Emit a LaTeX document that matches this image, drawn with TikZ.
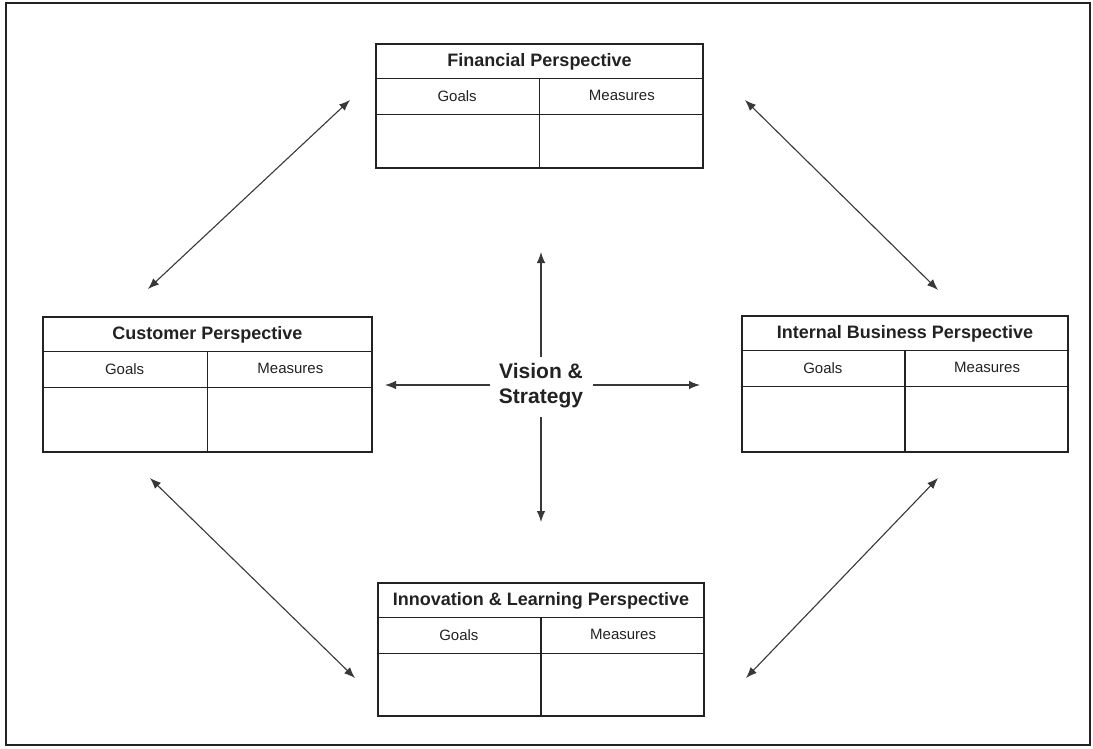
\documentclass[tikz,border=0pt]{standalone}
\usepackage{fontspec}
\setmainfont{Liberation Sans}
\usetikzlibrary{arrows.meta,calc}
\definecolor{ink}{HTML}{222222}
\tikzset{
  pbox/.style={draw=ink, line width=2.6pt, rectangle, inner sep=0pt},
  inner/.style={draw=ink, line width=1.5pt},
  ptitle/.style={font=\fontsize{18}{20}\selectfont\bfseries, text=ink, inner sep=0pt},
  phead/.style={font=\fontsize{15}{17}\selectfont, text=ink, inner sep=0pt},
  conn/.style={draw=ink!90, line width=1.1pt, {Latex[length=11pt,width=8.5pt]}-{Latex[length=11pt,width=8.5pt]}},
  ray/.style={draw=ink!90, line width=1.1pt, -{Latex[length=11pt,width=8.5pt]}},
  vision/.style={font=\fontsize{21}{25}\selectfont\bfseries, text=ink, align=center, inner sep=2pt}
}
\newcommand{\perspective}[5]{%
  % #1 name, #2 center, #3 width, #4 height, #5 title
  \node[pbox, minimum width=#3, minimum height=#4] (#1) at #2 {};
  \node[ptitle] (#1t) at ($(#1.north)+(0,19.5)$) {#5};
  \draw[inner] ($(#1.north west)+(0,36)$) -- ($(#1.north east)+(0,36)$);
  \draw[inner] ($(#1.north west)+(0,72)$) -- ($(#1.north east)+(0,72)$);
  \draw[inner] ($(#1.north)+(0,36)$) -- (#1.south);
  \node[phead] (#1g) at ($(#1.north)!0.5!(#1.north west)+(0,53)$) {Goals};
  \node[phead] (#1m) at ($(#1.north)!0.5!(#1.north east)+(0,53)$) {Measures};
}
\begin{document}
\begin{tikzpicture}[x=1pt,y=-1pt]
\useasboundingbox (0,0) rectangle (1093,748);
\draw[ink, line width=2.4pt] (6,3) rectangle (1090,745);

\perspective{fin}{(539.5,106)}{327pt}{124pt}{Financial Perspective}
\perspective{cus}{(207.5,384.5)}{329pt}{135pt}{Customer Perspective}
\perspective{int}{(905,384)}{326pt}{136pt}{Internal Business Perspective}
\perspective{inn}{(541,649.5)}{326pt}{133pt}{Innovation \& Learning Perspective}

\node[vision] (vs) at (541,386) {Vision \&\\Strategy};

\coordinate (vsU) at (541,357);
\coordinate (vsD) at (541,417);
\coordinate (vsL) at (490,385);
\coordinate (vsR) at (593,385);
\coordinate (tU) at (541,252);
\coordinate (tD) at (541,522);
\coordinate (tL) at (385,385);
\coordinate (tR) at (700,385);
\draw[ray] (vsU) -- (tU);
\draw[ray] (vsD) -- (tD);
\draw[ray] (vsL) -- (tL);
\draw[ray] (vsR) -- (tR);

\coordinate (a1) at (148,289); \coordinate (a2) at (350,100);
\coordinate (b1) at (745,100); \coordinate (b2) at (938,290);
\coordinate (c1) at (150,478); \coordinate (c2) at (355,678);
\coordinate (d1) at (746,678); \coordinate (d2) at (938,478);
\draw[conn] (a1) -- (a2);
\draw[conn] (b1) -- (b2);
\draw[conn] (c1) -- (c2);
\draw[conn] (d1) -- (d2);
\end{tikzpicture}
\end{document}
